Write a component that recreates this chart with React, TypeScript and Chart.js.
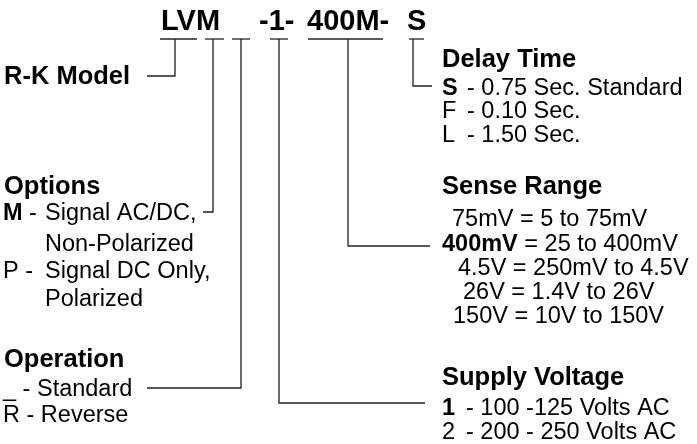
import React, { useEffect, useRef } from "react";
import { Chart, registerables } from "chart.js";

Chart.register(...registerables);

// ---- Diagram geometry (in diagram units = pixels of a 697 x 444 sheet) ----
const underlineY = 39;
const underlineStart = [160, 205, 232, 270, 308, 409];
const underlineEnd = [197, 224, 250, 288, 383, 424];
const leaderX = [175, 213, 241, 279, 348, 413];
const leaderEndY = [76, 212, 388, 403, 246, 86];
const leaderEndX = [147, 203, 147, 425, 430, 432];

// ---- Part-number parts ----
const titleParts = ["LVM", "-1-", "400M-", "S"];
const titleX = [161, 259, 307, 407];
const titleY = 30;

// ---- Headings ----
const headingTexts = ["R-K Model", "Options", "Operation", "Delay Time", "Sense Range", "Supply Voltage"];
const headingX = [4, 4, 4, 442, 442, 442];
const headingY = [84, 194, 367, 67, 194, 385];

// ---- Bold option codes, with the plain text that follows directly ----
const boldCodes = ["M", "S", "400mV", "1"];
const boldFollow = ["", "", " = 25 to 400mV", ""];
const boldCodeX = [3, 442, 442, 442];
const boldCodeY = [220, 95, 251, 415];

// ---- Plain text lines ----
const plainTexts = [
  "-", "Signal AC/DC,", "Non-Polarized", "P -", "Signal DC Only,", "Polarized",
  "_ - Standard", "R - Reverse",
  "- 0.75 Sec. Standard", "F", "- 0.10 Sec.", "L", "- 1.50 Sec.",
  "75mV = 5 to 75mV", "4.5V = 250mV to 4.5V", "26V = 1.4V to 26V", "150V = 10V to 150V",
  "- 100 -125 Volts AC", "2", "- 200 - 250 Volts AC",
];
const plainX = [
  29, 45, 45, 3, 45, 45,
  3, 3,
  467, 442, 467, 442, 467,
  452, 458, 463, 453,
  466, 442, 466,
];
const plainY = [
  220, 220, 251, 278, 278, 306,
  396, 422,
  95, 118, 118, 142, 142,
  226, 275, 299, 323,
  415, 439, 439,
];

const FONT = '"Liberation Sans", Arial, Helvetica, sans-serif';
const BODY = 23.5;

const textPlugin = {
  id: "diagramText",
  afterDatasetsDraw(chart: any) {
    const { ctx, scales } = chart;
    const xs = scales.x;
    const ys = scales.y;
    ctx.save();
    ctx.fillStyle = "#000";
    ctx.textBaseline = "alphabetic";
    ctx.textAlign = "left";
    ctx.font = `bold 29px ${FONT}`;
    titleParts.forEach((t, i) => {
      ctx.fillText(t, xs.getPixelForValue(titleX[i]), ys.getPixelForValue(titleY));
    });
    ctx.font = `bold 25.5px ${FONT}`;
    headingTexts.forEach((t, i) => {
      ctx.fillText(t, xs.getPixelForValue(headingX[i]), ys.getPixelForValue(headingY[i]));
    });
    boldCodes.forEach((t, i) => {
      const px = xs.getPixelForValue(boldCodeX[i]);
      const py = ys.getPixelForValue(boldCodeY[i]);
      ctx.font = `bold ${BODY}px ${FONT}`;
      ctx.fillText(t, px, py);
      if (boldFollow[i]) {
        const w = ctx.measureText(t).width;
        ctx.font = `${BODY}px ${FONT}`;
        ctx.fillText(boldFollow[i], px + w, py);
      }
    });
    ctx.font = `${BODY}px ${FONT}`;
    plainTexts.forEach((t, i) => {
      ctx.fillText(t, xs.getPixelForValue(plainX[i]), ys.getPixelForValue(plainY[i]));
    });
    ctx.restore();
  },
};

export default function App() {
  const ref = useRef<HTMLCanvasElement | null>(null);
  useEffect(() => {
    if (!ref.current) return;
    const lineStyle = {
      showLine: true,
      borderColor: "#222",
      borderWidth: 1.3,
      pointRadius: 0,
      fill: false,
      tension: 0,
    };
    const datasets: any[] = [];
    underlineStart.forEach((s, i) => {
      datasets.push({
        ...lineStyle,
        data: [
          { x: s, y: underlineY },
          { x: underlineEnd[i], y: underlineY },
        ],
      });
      datasets.push({
        ...lineStyle,
        data: [
          { x: leaderX[i], y: underlineY },
          { x: leaderX[i], y: leaderEndY[i] },
          { x: leaderEndX[i], y: leaderEndY[i] },
        ],
      });
    });
    const chart = new Chart(ref.current, {
      type: "scatter",
      data: { datasets },
      options: {
        animation: false,
        responsive: false,
        devicePixelRatio: 1,
        layout: { padding: 0 },
        plugins: { legend: { display: false }, tooltip: { enabled: false } },
        scales: {
          x: { type: "linear", min: 0, max: 697, display: false },
          y: { type: "linear", min: 0, max: 444, reverse: true, display: false },
        },
      },
      plugins: [textPlugin],
    });
    return () => chart.destroy();
  }, []);
  return (
    <div style={{ position: "fixed", left: 0, top: 0, width: 697, height: 444, background: "#fff" }}>
      <canvas ref={ref} width={697} height={444} />
    </div>
  );
}
